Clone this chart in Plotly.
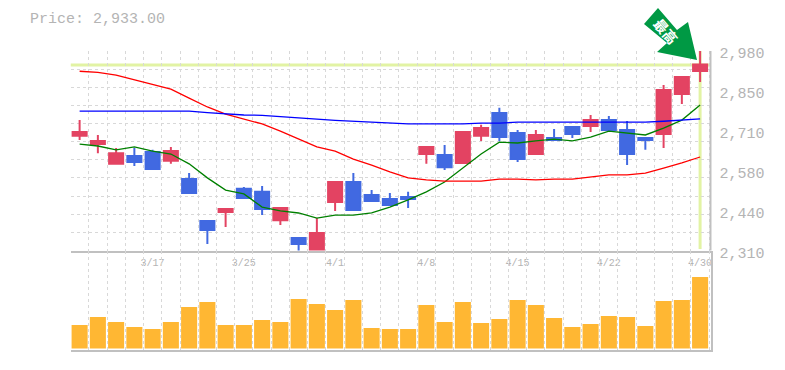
import plotly.graph_objects as go

W, H = 785, 370
dates = ["3/17", "3/25", "4/1", "4/8", "4/15", "4/22", "4/30"]
date_idx = [4, 9, 14, 19, 24, 29, 34]
price_label_pos = [2980, 2846, 2712, 2578, 2444, 2310]
price_labels = ["2,980", "2,850", "2,710", "2,580", "2,440", "2,310"]
current_price = 2933

opens = [2695, 2668, 2601, 2627, 2641, 2611, 2550, 2409, 2439, 2517, 2507, 2412, 2352, 2312, 2473, 2540, 2496, 2483, 2490,
         2634, 2631, 2604, 2695, 2772, 2705, 2634, 2688, 2725, 2728, 2748, 2715, 2688, 2701, 2836, 2913]
highs = [2748, 2698, 2654, 2654, 2648, 2658, 2570, 2412, 2449, 2523, 2527, 2456, 2355, 2419, 2540, 2570, 2513, 2503, 2507,
         2661, 2664, 2708, 2732, 2789, 2715, 2715, 2718, 2728, 2765, 2762, 2745, 2691, 2866, 2896, 2983]
lows = [2681, 2637, 2601, 2594, 2584, 2601, 2503, 2332, 2389, 2483, 2429, 2396, 2308, 2308, 2443, 2446, 2476, 2463, 2453,
        2601, 2580, 2601, 2678, 2678, 2607, 2631, 2678, 2688, 2708, 2708, 2597, 2648, 2654, 2802, 2876]
closes = [2708, 2678, 2637, 2607, 2584, 2644, 2503, 2379, 2449, 2486, 2449, 2453, 2332, 2369, 2540, 2446, 2476, 2463, 2483,
          2658, 2590, 2708, 2721, 2691, 2617, 2698, 2681, 2701, 2748, 2715, 2634, 2681, 2849, 2893, 2935]
ma_short = [2667, 2661, 2648, 2658, 2644, 2634, 2601, 2554, 2513, 2500, 2456, 2443, 2436, 2419, 2429, 2429, 2436, 2456, 2480,
            2507, 2540, 2587, 2634, 2674, 2671, 2678, 2684, 2678, 2691, 2711, 2705, 2698, 2721, 2748, 2799]
ma_mid = [2912, 2908, 2899, 2883, 2869, 2852, 2822, 2792, 2768, 2752, 2735, 2711, 2684, 2658, 2644, 2617, 2597, 2574, 2554,
          2547, 2543, 2543, 2543, 2550, 2550, 2547, 2550, 2550, 2557, 2564, 2564, 2570, 2587, 2604, 2624]
ma_long = [2778, 2778, 2778, 2778, 2778, 2778, 2778, 2773, 2768, 2765, 2764, 2759, 2754, 2751, 2747, 2744, 2741, 2738, 2735,
           2735, 2735, 2735, 2738, 2738, 2741, 2741, 2741, 2741, 2741, 2741, 2741, 2741, 2744, 2748, 2752]
volumes = [23.5, 31.5, 26.5, 21.5, 19.5, 26.5, 41.5, 46.5, 23.5, 23.5, 28.5, 26.5, 49.5, 44.5, 38.5, 48.5, 20.5, 19.5, 19.5,
           43.5, 26.5, 46.5, 25.5, 29.5, 48.5, 43.5, 30.5, 21.5, 24.5, 32.5, 31.5, 22.5, 47.5, 48.5, 71.5]
idx = list(range(len(opens)))

UP, DOWN = "#e34362", "#4169e1"
GRID, AXIS, TEXT = "#d8d8d8", "#c0c0c0", "#b4b4b4"
HILITE = "#e2f3a4"
MONO = "Liberation Mono, monospace"
L, R, T, M, B = 70.5, 710.5, 51, 250.5, 350
X_RANGE = [-0.5, 34.57]
Y_RANGE = [2310, 2980]

fig = go.Figure()
for vals, col in ((ma_short, "#008000"), (ma_mid, "#ff0000"), (ma_long, "#0000ff")):
    fig.add_trace(go.Scatter(x=idx, y=vals, mode="lines", line=dict(color=col, width=1.3), showlegend=False, hoverinfo="skip"))
fig.add_trace(go.Candlestick(
    x=idx, open=opens, high=highs, low=lows, close=closes, showlegend=False,
    increasing=dict(line=dict(color=UP, width=2), fillcolor=UP),
    decreasing=dict(line=dict(color=DOWN, width=2), fillcolor=DOWN)))
fig.add_trace(go.Bar(x=idx, y=volumes, xaxis="x2", yaxis="y2", width=0.88, marker=dict(color="#ffb733", line_width=0), showlegend=False))

minor_x = dict(showgrid=True, gridcolor=GRID, griddash="3px,3px", gridwidth=1, tick0=-0.5, dtick=1, ticks="")
fig.update_layout(
    template="none",
    width=W, height=H, margin=dict(l=0, r=0, t=0, b=0, autoexpand=False), paper_bgcolor="white", plot_bgcolor="white",
    boxgap=0.23, boxgroupgap=0, bargap=0.1, showlegend=False,
    xaxis=dict(domain=[L / W, R / W], range=X_RANGE, anchor="y", rangeslider=dict(visible=False), showgrid=False,
               automargin=False, tickmode="array", tickvals=date_idx, ticktext=dates, ticks="", zeroline=False,
               tickfont=dict(family=MONO, size=10, color=TEXT), ticklabelstandoff=1, minor=minor_x, showline=True, linecolor=AXIS, linewidth=2),
    yaxis=dict(domain=[1 - M / H, 1 - T / H], range=Y_RANGE, anchor="x", side="right", showgrid=False, automargin=False,
               tickmode="array", tickvals=price_label_pos, ticktext=price_labels, ticks="", zeroline=False,
               tickfont=dict(family=MONO, size=15, color=TEXT), ticklabelshift=2, ticklabelstandoff=8,
               minor=dict(showgrid=True, gridcolor=GRID, griddash="3px,3px", gridwidth=1, tick0=2310, dtick=670 / 11, ticks="")),
    xaxis2=dict(domain=[L / W, R / W], range=X_RANGE, anchor="y2", showgrid=False, showticklabels=False, ticks="", zeroline=False,
                automargin=False, minor=minor_x, showline=True, linecolor=AXIS, linewidth=2),
    yaxis2=dict(domain=[1 - B / H, 1 - M / H], range=[-1.5, 98], anchor="x2", side="right", showgrid=False, showticklabels=False,
                automargin=False, ticks="", zeroline=False, showline=True, linecolor=AXIS, linewidth=2),
    shapes=[
        dict(type="line", xref="x", yref="y", x0=X_RANGE[0], x1=X_RANGE[1], y0=current_price, y1=current_price,
             line=dict(color=HILITE, width=3), layer="below"),
        dict(type="line", xref="x", yref="y", x0=idx[-1], x1=idx[-1], y0=Y_RANGE[0] + 5, y1=Y_RANGE[1],
             line=dict(color=HILITE, width=3), layer="below"),
        dict(type="line", xref="paper", yref="paper", x0=R / W, x1=R / W, y0=1 - T / H, y1=1 - M / H,
             line=dict(color=AXIS, width=2)),
        dict(type="path", xref="paper", yref="paper", fillcolor="#009944", line_width=0,
             path="M {} {} L {} {} L {} {} L {} {} L {} {} L {} {} L {} {} Z".format(*[
                 v for p in [(658, 8), (677, 30), (688, 22), (697, 60), (657, 52), (667, 43), (644, 24)]
                 for v in (p[0] / W, 1 - p[1] / H)])),
    ],
    annotations=[
        dict(text="Price: 2,933.00", xref="paper", yref="paper", x=28 / W, y=1 - 19.5 / H, xanchor="left", yanchor="middle",
             showarrow=False, font=dict(family=MONO, size=15, color=TEXT)),
        dict(text="<b>最高</b>", xref="paper", yref="paper", x=666 / W, y=1 - 31 / H, xanchor="center", yanchor="middle",
             showarrow=False, textangle=50, font=dict(family="Noto Sans CJK JP", size=14, color="white")),
    ],
)
fig.write_html("out.html", config=dict(displayModeBar=False),
               post_script="document.body.style.margin='0';document.body.style.overflow='hidden';")
